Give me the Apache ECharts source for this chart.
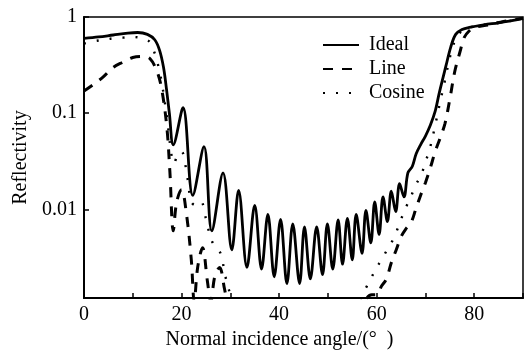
<!DOCTYPE html>
<html><head><meta charset="utf-8">
<script src="https://cdn.jsdelivr.net/npm/echarts@6/dist/echarts.min.js"></script>
<style>html,body{margin:0;padding:0;background:#fff}#c{width:526px;height:355px}</style>
</head><body><div id="c"></div>
<script>
var xTickLabels = ['0', '20', '40', '60', '80'];
var yTickLabels = ['0.01', '0.1', '1'];
var seriesNames = ['Ideal', 'Line', 'Cosine'];

var idealX = [0, 3, 6, 9, 11, 13, 14.5, 15.5, 16.3, 16.9, 17.5, 18.3, 20.3, 22.3, 24.6, 26.2, 28.5, 30.3, 31.7, 33.4, 35.0, 36.4, 37.7, 39.0, 40.3, 41.6, 42.8, 44.2, 45.2, 46.4, 47.7, 48.9, 49.9, 51.0, 52.1, 53.0, 54.0, 55.0, 55.8, 57.0, 57.8, 58.8, 59.6, 60.5, 61.3, 62.2, 63.0, 63.9, 64.7, 65.6, 66.4, 67.3, 68.1, 69.0, 70.0, 71.0, 72.0, 72.8, 74.2, 75.2, 76.2, 77.5, 79, 82, 85, 88, 90];
var idealY = [0.6, 0.62, 0.65, 0.68, 0.69, 0.66, 0.58, 0.45, 0.3, 0.18, 0.1, 0.047, 0.114, 0.014, 0.045, 0.006, 0.024, 0.0038, 0.0158, 0.0025, 0.011, 0.0024, 0.0089, 0.002, 0.0079, 0.0017, 0.0071, 0.0017, 0.0066, 0.0019, 0.0066, 0.0021, 0.0071, 0.0024, 0.0078, 0.0027, 0.0081, 0.003, 0.0089, 0.0035, 0.0098, 0.0045, 0.012, 0.0055, 0.0135, 0.0075, 0.0155, 0.0095, 0.0185, 0.0135, 0.024, 0.028, 0.038, 0.047, 0.058, 0.075, 0.105, 0.16, 0.31, 0.49, 0.66, 0.74, 0.78, 0.83, 0.87, 0.92, 0.97];

var lineX = [0, 2, 4, 6, 8, 10, 12, 13.5, 15, 16, 17, 17.6, 18.3, 19.0, 20, 21, 22, 22.6, 23.3, 24.3, 25.3, 26, 26.8, 27.8, 28.8, 29.5, 31, 33, 55, 57, 58, 59, 60, 61, 62, 63, 64, 65, 66, 67, 68, 69, 70, 71, 72, 73, 74, 75, 76, 77, 78, 79, 80, 83, 86, 90];
var lineY = [0.17, 0.2, 0.24, 0.3, 0.34, 0.38, 0.39, 0.37, 0.27, 0.17, 0.07, 0.025, 0.006, 0.012, 0.016, 0.009, 0.003, 0.0011, 0.0025, 0.004, 0.0018, 0.0011, 0.002, 0.0025, 0.0015, 0.001, 0.0006, 0.0003, 0.0003, 0.0009, 0.0012, 0.0013, 0.0013, 0.0016, 0.0019, 0.0028, 0.0038, 0.0052, 0.0063, 0.0072, 0.010, 0.014, 0.019, 0.027, 0.04, 0.055, 0.078, 0.14, 0.27, 0.42, 0.62, 0.72, 0.78, 0.83, 0.9, 0.97];

var cosineX = [0, 2, 4, 6, 8, 10, 12, 13.5, 14.5, 15.3, 16, 17, 18, 18.5, 19, 20, 21, 22, 23, 24, 25, 26, 27, 28, 29, 30, 31, 35, 54, 56, 57, 58, 59, 60, 61, 62, 63, 64, 65, 66, 67, 68, 69, 70, 71, 72, 73, 74, 75, 76, 77, 78, 80, 84, 90];
var cosineY = [0.53, 0.56, 0.58, 0.6, 0.61, 0.62, 0.6, 0.55, 0.42, 0.3, 0.2, 0.09, 0.035, 0.03, 0.035, 0.04, 0.025, 0.012, 0.011, 0.012, 0.008, 0.005, 0.004, 0.0035, 0.002, 0.0013, 0.0009, 0.0004, 0.0005, 0.0008, 0.0013, 0.0016, 0.002, 0.0025, 0.003, 0.0037, 0.0045, 0.0058, 0.0079, 0.0105, 0.0135, 0.018, 0.022, 0.031, 0.045, 0.075, 0.13, 0.22, 0.38, 0.56, 0.68, 0.74, 0.8, 0.86, 0.95];

function pairs(xs, ys) { return xs.map(function (x, i) { return [x, ys[i]]; }); }

var FONT = 'Liberation Serif';
var chart = echarts.init(document.getElementById('c'), null, { renderer: 'canvas' });
chart.setOption({
  animation: false,
  backgroundColor: '#fff',
  grid: { left: 84, right: 0, top: 17, bottom: 52, show: true, borderColor: '#000', borderWidth: 1.5, backgroundColor: 'transparent' },
  legend: {
    orient: 'vertical', left: 317, top: 30, itemWidth: 36, itemHeight: 14, itemGap: 4,
    data: seriesNames,
    itemStyle: { opacity: 0, borderWidth: 0 },
    textStyle: { fontFamily: FONT, fontSize: 20, color: '#000', padding: [0, 0, 0, 5] }
  },
  xAxis: {
    type: 'value', min: 0, max: 90, interval: 10,
    name: 'Normal incidence angle/(°  )', nameLocation: 'middle', nameGap: 30,
    nameTextStyle: { fontFamily: FONT, fontSize: 20, color: '#000', padding: [0, 48, 0, 0] },
    axisLine: { lineStyle: { color: '#000', width: 2 } },
    axisTick: { inside: true, length: 5, lineStyle: { color: '#000', width: 1.5 } },
    axisLabel: {
      fontFamily: FONT, fontSize: 20, color: '#000', margin: 7,
      formatter: function (v) { var s = String(v); return xTickLabels.indexOf(s) >= 0 ? s : ''; }
    },
    splitLine: { show: false }
  },
  yAxis: {
    type: 'log', logBase: 10, min: 0.0012, max: 1,
    name: 'Reflectivity', nameLocation: 'middle', nameGap: 52,
    nameTextStyle: { fontFamily: FONT, fontSize: 20, color: '#000' },
    axisLine: { lineStyle: { color: '#000', width: 2 } },
    axisTick: { inside: true, length: 5, lineStyle: { color: '#000', width: 1.5 } },
    axisLabel: {
      fontFamily: FONT, fontSize: 20, color: '#000', margin: 7, showMinLabel: false,
      formatter: function (v) {
        var e = Math.round(Math.log10(v));
        if (Math.abs(Math.log10(v) - e) > 1e-6) return '';
        var s = String(+Math.pow(10, e).toFixed(4));
        return yTickLabels.indexOf(s) >= 0 ? s : '';
      }
    },
    splitLine: { show: false }
  },
  series: [
    { name: seriesNames[0], type: 'line', data: pairs(idealX, idealY), symbol: 'none', smooth: 0.35, clip: true,
      lineStyle: { color: '#000', width: 2.8, type: 'solid' }, itemStyle: { color: '#000' }, z: 3 },
    { name: seriesNames[1], type: 'line', data: pairs(lineX, lineY), symbol: 'none', smooth: 0.35, clip: true,
      lineStyle: { color: '#000', width: 3, type: [10, 9] }, itemStyle: { color: '#000' }, z: 2 },
    { name: seriesNames[2], type: 'line', data: pairs(cosineX, cosineY), symbol: 'none', smooth: 0.35, clip: true,
      lineStyle: { color: '#000', width: 2.4, type: [2, 11] }, itemStyle: { color: '#000' }, z: 2 }
  ]
});
</script></body></html>
